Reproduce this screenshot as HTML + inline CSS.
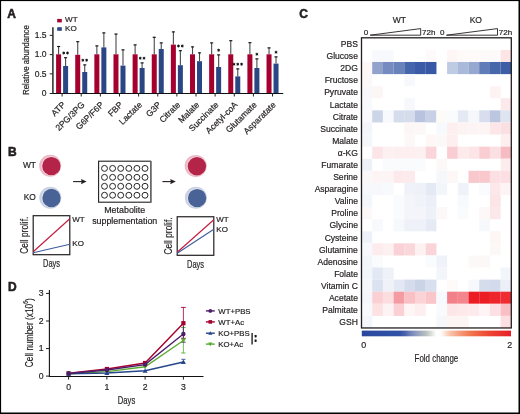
<!DOCTYPE html>
<html><head><meta charset="utf-8"><style>
html,body{margin:0;padding:0;background:#fff;width:520px;height:414px;overflow:hidden;}
svg{display:block;will-change:transform;}
text{font-family:"Liberation Sans",sans-serif;fill:#231f20;stroke:#231f20;stroke-width:0.2px;}
</style></head><body>
<svg width="520" height="414" viewBox="0 0 520 414">
<text x="7.2" y="17.9" font-size="12.0" font-weight="bold" style="stroke-width:0.55px">A</text>
<rect x="57.2" y="18.9" width="4.6" height="3.5" fill="#a6002f"/>
<rect x="57.2" y="27.2" width="4.6" height="3.6" fill="#2a4784"/>
<text x="65.0" y="22.45" font-size="8.1">WT</text>
<text x="65.0" y="31.3" font-size="8.1">KO</text>
<line x1="52.9" y1="27.3" x2="52.9" y2="94" stroke="#2a2a2a" stroke-width="1.5"/>
<line x1="52.2" y1="93.5" x2="283.2" y2="93.5" stroke="#111" stroke-width="1.05"/>
<line x1="49.7" y1="93.50" x2="52.5" y2="93.50" stroke="#231f20" stroke-width="1"/>
<text x="46.5" y="95.95" font-size="8.5" text-anchor="end">0</text>
<line x1="49.7" y1="73.85" x2="52.5" y2="73.85" stroke="#231f20" stroke-width="1"/>
<text x="46.5" y="76.70" font-size="8.5" text-anchor="end">0.5</text>
<line x1="49.7" y1="54.60" x2="52.5" y2="54.60" stroke="#231f20" stroke-width="1"/>
<text x="46.5" y="57.45" font-size="8.5" text-anchor="end">1.0</text>
<line x1="49.7" y1="35.35" x2="52.5" y2="35.35" stroke="#231f20" stroke-width="1"/>
<text x="46.5" y="38.20" font-size="8.5" text-anchor="end">1.5</text>
<text transform="translate(28.9,60.05) rotate(-90)" font-size="9.2" text-anchor="middle" textLength="70" lengthAdjust="spacingAndGlyphs">Relative abundance</text>
<line x1="62.10" y1="93.0" x2="62.10" y2="96.5" stroke="#231f20" stroke-width="1"/>
<line x1="58.60" y1="54.3" x2="58.60" y2="46" stroke="#4a4a4a" stroke-width="1.1"/>
<line x1="57.05" y1="46.5" x2="60.15" y2="46.5" stroke="#111" stroke-width="1.1"/>
<rect x="56.10" y="54.3" width="5" height="38.70" fill="#a6002f"/>
<line x1="65.60" y1="66" x2="65.60" y2="57.2" stroke="#4a4a4a" stroke-width="1.1"/>
<line x1="64.05" y1="57.7" x2="67.15" y2="57.7" stroke="#111" stroke-width="1.1"/>
<rect x="63.10" y="66" width="5" height="27.00" fill="#2a4784"/>
<line x1="63.70" y1="51.55" x2="63.70" y2="54.45" stroke="#111" stroke-width="0.95"/>
<line x1="62.44" y1="52.27" x2="64.96" y2="53.73" stroke="#111" stroke-width="0.95"/>
<line x1="62.44" y1="53.73" x2="64.96" y2="52.27" stroke="#111" stroke-width="0.95"/>
<line x1="67.50" y1="51.55" x2="67.50" y2="54.45" stroke="#111" stroke-width="0.95"/>
<line x1="66.24" y1="52.27" x2="68.76" y2="53.73" stroke="#111" stroke-width="0.95"/>
<line x1="66.24" y1="53.73" x2="68.76" y2="52.27" stroke="#111" stroke-width="0.95"/>
<text transform="translate(66.00,105.3) rotate(-45)" font-size="8.6" text-anchor="end">ATP</text>
<line x1="81.23" y1="93.0" x2="81.23" y2="96.5" stroke="#231f20" stroke-width="1"/>
<line x1="77.73" y1="54.8" x2="77.73" y2="41.2" stroke="#4a4a4a" stroke-width="1.1"/>
<line x1="76.18" y1="41.7" x2="79.28" y2="41.7" stroke="#111" stroke-width="1.1"/>
<rect x="75.23" y="54.8" width="5" height="38.20" fill="#a6002f"/>
<line x1="84.73" y1="72" x2="84.73" y2="64.4" stroke="#4a4a4a" stroke-width="1.1"/>
<line x1="83.18" y1="64.9" x2="86.28" y2="64.9" stroke="#111" stroke-width="1.1"/>
<rect x="82.23" y="72" width="5" height="21.00" fill="#2a4784"/>
<line x1="82.83" y1="58.75" x2="82.83" y2="61.65" stroke="#111" stroke-width="0.95"/>
<line x1="81.57" y1="59.48" x2="84.09" y2="60.93" stroke="#111" stroke-width="0.95"/>
<line x1="81.57" y1="60.93" x2="84.09" y2="59.48" stroke="#111" stroke-width="0.95"/>
<line x1="86.63" y1="58.75" x2="86.63" y2="61.65" stroke="#111" stroke-width="0.95"/>
<line x1="85.37" y1="59.48" x2="87.89" y2="60.93" stroke="#111" stroke-width="0.95"/>
<line x1="85.37" y1="60.93" x2="87.89" y2="59.48" stroke="#111" stroke-width="0.95"/>
<text transform="translate(85.13,105.3) rotate(-45)" font-size="8.6" text-anchor="end">2PG/3PG</text>
<line x1="100.36" y1="93.0" x2="100.36" y2="96.5" stroke="#231f20" stroke-width="1"/>
<line x1="96.86" y1="54.3" x2="96.86" y2="45.4" stroke="#4a4a4a" stroke-width="1.1"/>
<line x1="95.31" y1="45.9" x2="98.41" y2="45.9" stroke="#111" stroke-width="1.1"/>
<rect x="94.36" y="54.3" width="5" height="38.70" fill="#a6002f"/>
<line x1="103.86" y1="47.4" x2="103.86" y2="32.4" stroke="#4a4a4a" stroke-width="1.1"/>
<line x1="102.31" y1="32.9" x2="105.41" y2="32.9" stroke="#111" stroke-width="1.1"/>
<rect x="101.36" y="47.4" width="5" height="45.60" fill="#2a4784"/>
<text transform="translate(104.26,105.3) rotate(-45)" font-size="8.6" text-anchor="end">G6P/F6P</text>
<line x1="119.49" y1="93.0" x2="119.49" y2="96.5" stroke="#231f20" stroke-width="1"/>
<line x1="115.99" y1="54.3" x2="115.99" y2="33.6" stroke="#4a4a4a" stroke-width="1.1"/>
<line x1="114.44" y1="34.1" x2="117.54" y2="34.1" stroke="#111" stroke-width="1.1"/>
<rect x="113.49" y="54.3" width="5" height="38.70" fill="#a6002f"/>
<line x1="122.99" y1="65.6" x2="122.99" y2="49.4" stroke="#4a4a4a" stroke-width="1.1"/>
<line x1="121.44" y1="49.9" x2="124.54" y2="49.9" stroke="#111" stroke-width="1.1"/>
<rect x="120.49" y="65.6" width="5" height="27.40" fill="#2a4784"/>
<text transform="translate(123.39,105.3) rotate(-45)" font-size="8.6" text-anchor="end">FBP</text>
<line x1="138.62" y1="93.0" x2="138.62" y2="96.5" stroke="#231f20" stroke-width="1"/>
<line x1="135.12" y1="54.3" x2="135.12" y2="44.4" stroke="#4a4a4a" stroke-width="1.1"/>
<line x1="133.57" y1="44.9" x2="136.67" y2="44.9" stroke="#111" stroke-width="1.1"/>
<rect x="132.62" y="54.3" width="5" height="38.70" fill="#a6002f"/>
<line x1="142.12" y1="68" x2="142.12" y2="62.4" stroke="#4a4a4a" stroke-width="1.1"/>
<line x1="140.57" y1="62.9" x2="143.67" y2="62.9" stroke="#111" stroke-width="1.1"/>
<rect x="139.62" y="68" width="5" height="25.00" fill="#2a4784"/>
<line x1="140.22" y1="56.75" x2="140.22" y2="59.65" stroke="#111" stroke-width="0.95"/>
<line x1="138.96" y1="57.47" x2="141.48" y2="58.92" stroke="#111" stroke-width="0.95"/>
<line x1="138.96" y1="58.92" x2="141.48" y2="57.47" stroke="#111" stroke-width="0.95"/>
<line x1="144.02" y1="56.75" x2="144.02" y2="59.65" stroke="#111" stroke-width="0.95"/>
<line x1="142.76" y1="57.47" x2="145.28" y2="58.92" stroke="#111" stroke-width="0.95"/>
<line x1="142.76" y1="58.92" x2="145.28" y2="57.47" stroke="#111" stroke-width="0.95"/>
<text transform="translate(142.52,105.3) rotate(-45)" font-size="8.6" text-anchor="end">Lactate</text>
<line x1="157.75" y1="93.0" x2="157.75" y2="96.5" stroke="#231f20" stroke-width="1"/>
<line x1="154.25" y1="54.3" x2="154.25" y2="36.8" stroke="#4a4a4a" stroke-width="1.1"/>
<line x1="152.70" y1="37.3" x2="155.80" y2="37.3" stroke="#111" stroke-width="1.1"/>
<rect x="151.75" y="54.3" width="5" height="38.70" fill="#a6002f"/>
<line x1="161.25" y1="49" x2="161.25" y2="42.4" stroke="#4a4a4a" stroke-width="1.1"/>
<line x1="159.70" y1="42.9" x2="162.80" y2="42.9" stroke="#111" stroke-width="1.1"/>
<rect x="158.75" y="49" width="5" height="44.00" fill="#2a4784"/>
<text transform="translate(161.65,105.3) rotate(-45)" font-size="8.6" text-anchor="end">G3P</text>
<line x1="176.88" y1="93.0" x2="176.88" y2="96.5" stroke="#231f20" stroke-width="1"/>
<line x1="173.38" y1="44.6" x2="173.38" y2="31.4" stroke="#4a4a4a" stroke-width="1.1"/>
<line x1="171.83" y1="31.9" x2="174.93" y2="31.9" stroke="#111" stroke-width="1.1"/>
<rect x="170.88" y="44.6" width="5" height="48.40" fill="#a6002f"/>
<line x1="180.38" y1="65.2" x2="180.38" y2="50.2" stroke="#4a4a4a" stroke-width="1.1"/>
<line x1="178.83" y1="50.7" x2="181.93" y2="50.7" stroke="#111" stroke-width="1.1"/>
<rect x="177.88" y="65.2" width="5" height="27.80" fill="#2a4784"/>
<line x1="178.48" y1="44.55" x2="178.48" y2="47.45" stroke="#111" stroke-width="0.95"/>
<line x1="177.22" y1="45.27" x2="179.74" y2="46.73" stroke="#111" stroke-width="0.95"/>
<line x1="177.22" y1="46.73" x2="179.74" y2="45.27" stroke="#111" stroke-width="0.95"/>
<line x1="182.28" y1="44.55" x2="182.28" y2="47.45" stroke="#111" stroke-width="0.95"/>
<line x1="181.02" y1="45.27" x2="183.54" y2="46.73" stroke="#111" stroke-width="0.95"/>
<line x1="181.02" y1="46.73" x2="183.54" y2="45.27" stroke="#111" stroke-width="0.95"/>
<text transform="translate(180.78,105.3) rotate(-45)" font-size="8.6" text-anchor="end">Citrate</text>
<line x1="196.01" y1="93.0" x2="196.01" y2="96.5" stroke="#231f20" stroke-width="1"/>
<line x1="192.51" y1="54.3" x2="192.51" y2="46.4" stroke="#4a4a4a" stroke-width="1.1"/>
<line x1="190.96" y1="46.9" x2="194.06" y2="46.9" stroke="#111" stroke-width="1.1"/>
<rect x="190.01" y="54.3" width="5" height="38.70" fill="#a6002f"/>
<line x1="199.51" y1="61.2" x2="199.51" y2="52.4" stroke="#4a4a4a" stroke-width="1.1"/>
<line x1="197.96" y1="52.9" x2="201.06" y2="52.9" stroke="#111" stroke-width="1.1"/>
<rect x="197.01" y="61.2" width="5" height="31.80" fill="#2a4784"/>
<text transform="translate(199.91,105.3) rotate(-45)" font-size="8.6" text-anchor="end">Malate</text>
<line x1="215.14" y1="93.0" x2="215.14" y2="96.5" stroke="#231f20" stroke-width="1"/>
<line x1="211.64" y1="54.3" x2="211.64" y2="42.4" stroke="#4a4a4a" stroke-width="1.1"/>
<line x1="210.09" y1="42.9" x2="213.19" y2="42.9" stroke="#111" stroke-width="1.1"/>
<rect x="209.14" y="54.3" width="5" height="38.70" fill="#a6002f"/>
<line x1="218.64" y1="67" x2="218.64" y2="54.4" stroke="#4a4a4a" stroke-width="1.1"/>
<line x1="217.09" y1="54.9" x2="220.19" y2="54.9" stroke="#111" stroke-width="1.1"/>
<rect x="216.14" y="67" width="5" height="26.00" fill="#2a4784"/>
<line x1="218.64" y1="48.75" x2="218.64" y2="51.65" stroke="#111" stroke-width="0.95"/>
<line x1="217.38" y1="49.47" x2="219.90" y2="50.92" stroke="#111" stroke-width="0.95"/>
<line x1="217.38" y1="50.92" x2="219.90" y2="49.47" stroke="#111" stroke-width="0.95"/>
<text transform="translate(219.04,105.3) rotate(-45)" font-size="8.6" text-anchor="end">Succinate</text>
<line x1="234.27" y1="93.0" x2="234.27" y2="96.5" stroke="#231f20" stroke-width="1"/>
<line x1="230.77" y1="54.3" x2="230.77" y2="40.2" stroke="#4a4a4a" stroke-width="1.1"/>
<line x1="229.22" y1="40.7" x2="232.32" y2="40.7" stroke="#111" stroke-width="1.1"/>
<rect x="228.27" y="54.3" width="5" height="38.70" fill="#a6002f"/>
<line x1="237.77" y1="76.4" x2="237.77" y2="68.4" stroke="#4a4a4a" stroke-width="1.1"/>
<line x1="236.22" y1="68.9" x2="239.32" y2="68.9" stroke="#111" stroke-width="1.1"/>
<rect x="235.27" y="76.4" width="5" height="16.60" fill="#2a4784"/>
<line x1="233.97" y1="62.75" x2="233.97" y2="65.65" stroke="#111" stroke-width="0.95"/>
<line x1="232.71" y1="63.48" x2="235.23" y2="64.92" stroke="#111" stroke-width="0.95"/>
<line x1="232.71" y1="64.92" x2="235.23" y2="63.48" stroke="#111" stroke-width="0.95"/>
<line x1="237.77" y1="62.75" x2="237.77" y2="65.65" stroke="#111" stroke-width="0.95"/>
<line x1="236.51" y1="63.48" x2="239.03" y2="64.92" stroke="#111" stroke-width="0.95"/>
<line x1="236.51" y1="64.92" x2="239.03" y2="63.48" stroke="#111" stroke-width="0.95"/>
<line x1="241.57" y1="62.75" x2="241.57" y2="65.65" stroke="#111" stroke-width="0.95"/>
<line x1="240.31" y1="63.48" x2="242.83" y2="64.92" stroke="#111" stroke-width="0.95"/>
<line x1="240.31" y1="64.92" x2="242.83" y2="63.48" stroke="#111" stroke-width="0.95"/>
<text transform="translate(238.17,105.3) rotate(-45)" font-size="8.6" text-anchor="end">Acetyl-coA</text>
<line x1="253.40" y1="93.0" x2="253.40" y2="96.5" stroke="#231f20" stroke-width="1"/>
<line x1="249.90" y1="54.3" x2="249.90" y2="42.2" stroke="#4a4a4a" stroke-width="1.1"/>
<line x1="248.35" y1="42.7" x2="251.45" y2="42.7" stroke="#111" stroke-width="1.1"/>
<rect x="247.40" y="54.3" width="5" height="38.70" fill="#a6002f"/>
<line x1="256.90" y1="68" x2="256.90" y2="58.4" stroke="#4a4a4a" stroke-width="1.1"/>
<line x1="255.35" y1="58.9" x2="258.45" y2="58.9" stroke="#111" stroke-width="1.1"/>
<rect x="254.40" y="68" width="5" height="25.00" fill="#2a4784"/>
<line x1="256.90" y1="52.75" x2="256.90" y2="55.65" stroke="#111" stroke-width="0.95"/>
<line x1="255.64" y1="53.47" x2="258.16" y2="54.92" stroke="#111" stroke-width="0.95"/>
<line x1="255.64" y1="54.92" x2="258.16" y2="53.47" stroke="#111" stroke-width="0.95"/>
<text transform="translate(257.30,105.3) rotate(-45)" font-size="8.6" text-anchor="end">Glutamate</text>
<line x1="272.53" y1="93.0" x2="272.53" y2="96.5" stroke="#231f20" stroke-width="1"/>
<line x1="269.03" y1="54.3" x2="269.03" y2="47.4" stroke="#4a4a4a" stroke-width="1.1"/>
<line x1="267.48" y1="47.9" x2="270.58" y2="47.9" stroke="#111" stroke-width="1.1"/>
<rect x="266.53" y="54.3" width="5" height="38.70" fill="#a6002f"/>
<line x1="276.03" y1="63.6" x2="276.03" y2="56.4" stroke="#4a4a4a" stroke-width="1.1"/>
<line x1="274.48" y1="56.9" x2="277.58" y2="56.9" stroke="#111" stroke-width="1.1"/>
<rect x="273.53" y="63.6" width="5" height="29.40" fill="#2a4784"/>
<line x1="276.03" y1="50.75" x2="276.03" y2="53.65" stroke="#111" stroke-width="0.95"/>
<line x1="274.77" y1="51.47" x2="277.29" y2="52.92" stroke="#111" stroke-width="0.95"/>
<line x1="274.77" y1="52.92" x2="277.29" y2="51.47" stroke="#111" stroke-width="0.95"/>
<text transform="translate(276.43,105.3) rotate(-45)" font-size="8.6" text-anchor="end">Asparatate</text>
<text x="7.9" y="155.9" font-size="12.0" font-weight="bold" style="stroke-width:0.55px">B</text>
<text x="36.0" y="168.2" font-size="8.4" text-anchor="end">WT</text>
<text x="35.8" y="200.0" font-size="8.4" text-anchor="end">KO</text>
<circle cx="50.20" cy="165.80" r="11" fill="#ebb9c7"/>
<circle cx="51.10" cy="166.00" r="9.65" fill="#f6dfe5"/>
<circle cx="51.4" cy="166.1" r="9.2" fill="#b42348"/>
<circle cx="50.30" cy="197.70" r="11" fill="#c9d1e3"/>
<circle cx="51.20" cy="197.90" r="9.65" fill="#e6eaf2"/>
<circle cx="51.5" cy="198.0" r="9.2" fill="#4a6396"/>
<circle cx="195.70" cy="165.90" r="11" fill="#ebb9c7"/>
<circle cx="196.60" cy="166.10" r="9.65" fill="#f6dfe5"/>
<circle cx="196.9" cy="166.2" r="9.2" fill="#b42348"/>
<circle cx="195.90" cy="197.80" r="11" fill="#c9d1e3"/>
<circle cx="196.80" cy="198.00" r="9.65" fill="#e6eaf2"/>
<circle cx="197.1" cy="198.1" r="9.2" fill="#4a6396"/>
<line x1="73.1" y1="181.6" x2="83.6" y2="181.6" stroke="#231f20" stroke-width="1.1"/>
<path d="M81.00,179.00 L86.60,181.60 L81.00,184.20 L81.70,181.60 Z" fill="#231f20"/>
<line x1="162.4" y1="181.6" x2="172.8" y2="181.6" stroke="#231f20" stroke-width="1.1"/>
<path d="M170.20,179.00 L175.80,181.60 L170.20,184.20 L170.90,181.60 Z" fill="#231f20"/>
<rect x="98.6" y="161.2" width="52" height="41" fill="#fff" stroke="#231f20" stroke-width="1.1"/>
<line x1="151" y1="161" x2="151" y2="202.8" stroke="#777" stroke-width="1.6"/>
<circle cx="104.50" cy="168.40" r="2.95" fill="none" stroke="#1a1a1a" stroke-width="0.95"/>
<circle cx="112.60" cy="168.40" r="2.95" fill="none" stroke="#1a1a1a" stroke-width="0.95"/>
<circle cx="120.70" cy="168.40" r="2.95" fill="none" stroke="#1a1a1a" stroke-width="0.95"/>
<circle cx="128.80" cy="168.40" r="2.95" fill="none" stroke="#1a1a1a" stroke-width="0.95"/>
<circle cx="136.90" cy="168.40" r="2.95" fill="none" stroke="#1a1a1a" stroke-width="0.95"/>
<circle cx="145.00" cy="168.40" r="2.95" fill="none" stroke="#1a1a1a" stroke-width="0.95"/>
<circle cx="104.50" cy="177.35" r="2.95" fill="none" stroke="#1a1a1a" stroke-width="0.95"/>
<circle cx="112.60" cy="177.35" r="2.95" fill="none" stroke="#1a1a1a" stroke-width="0.95"/>
<circle cx="120.70" cy="177.35" r="2.95" fill="none" stroke="#1a1a1a" stroke-width="0.95"/>
<circle cx="128.80" cy="177.35" r="2.95" fill="none" stroke="#1a1a1a" stroke-width="0.95"/>
<circle cx="136.90" cy="177.35" r="2.95" fill="none" stroke="#1a1a1a" stroke-width="0.95"/>
<circle cx="145.00" cy="177.35" r="2.95" fill="none" stroke="#1a1a1a" stroke-width="0.95"/>
<circle cx="104.50" cy="186.30" r="2.95" fill="none" stroke="#1a1a1a" stroke-width="0.95"/>
<circle cx="112.60" cy="186.30" r="2.95" fill="none" stroke="#1a1a1a" stroke-width="0.95"/>
<circle cx="120.70" cy="186.30" r="2.95" fill="none" stroke="#1a1a1a" stroke-width="0.95"/>
<circle cx="128.80" cy="186.30" r="2.95" fill="none" stroke="#1a1a1a" stroke-width="0.95"/>
<circle cx="136.90" cy="186.30" r="2.95" fill="none" stroke="#1a1a1a" stroke-width="0.95"/>
<circle cx="145.00" cy="186.30" r="2.95" fill="none" stroke="#1a1a1a" stroke-width="0.95"/>
<circle cx="104.50" cy="195.25" r="2.95" fill="none" stroke="#1a1a1a" stroke-width="0.95"/>
<circle cx="112.60" cy="195.25" r="2.95" fill="none" stroke="#1a1a1a" stroke-width="0.95"/>
<circle cx="120.70" cy="195.25" r="2.95" fill="none" stroke="#1a1a1a" stroke-width="0.95"/>
<circle cx="128.80" cy="195.25" r="2.95" fill="none" stroke="#1a1a1a" stroke-width="0.95"/>
<circle cx="136.90" cy="195.25" r="2.95" fill="none" stroke="#1a1a1a" stroke-width="0.95"/>
<circle cx="145.00" cy="195.25" r="2.95" fill="none" stroke="#1a1a1a" stroke-width="0.95"/>
<text x="124.7" y="212.6" font-size="8.9" text-anchor="middle" fill="#333">Metabolite</text>
<text x="124.7" y="223.6" font-size="8.9" text-anchor="middle" fill="#333">supplementation</text>
<rect x="33.2" y="215.7" width="36.599999999999994" height="39.0" fill="none" stroke="#231f20" stroke-width="1.2"/>
<line x1="33.2" y1="251.7" x2="69.8" y2="218.7" stroke="#c41a3c" stroke-width="1.15"/>
<line x1="33.2" y1="252.7" x2="69.8" y2="244.2" stroke="#3d5c9e" stroke-width="1.1"/>
<text x="72.3" y="222.3" font-size="8.0">WT</text>
<text x="72.3" y="246.3" font-size="8.0">KO</text>
<text transform="translate(27.70,235.15) rotate(-90)" font-size="10" text-anchor="middle" textLength="37" lengthAdjust="spacingAndGlyphs">Cell prolif.</text>
<text x="51.50" y="266.90" font-size="11" text-anchor="middle" textLength="17" lengthAdjust="spacingAndGlyphs">Days</text>
<rect x="177.2" y="216.75" width="36.60000000000002" height="38.55000000000001" fill="none" stroke="#231f20" stroke-width="1.2"/>
<line x1="177.2" y1="252.3" x2="213.8" y2="219.75" stroke="#c41a3c" stroke-width="1.15"/>
<line x1="177.2" y1="253.3" x2="213.8" y2="229.2" stroke="#3d5c9e" stroke-width="1.1"/>
<text x="216.3" y="222.0" font-size="8.0">WT</text>
<text x="216.3" y="231.8" font-size="8.0">KO</text>
<text transform="translate(171.70,235.90) rotate(-90)" font-size="10" text-anchor="middle" textLength="37" lengthAdjust="spacingAndGlyphs">Cell prolif.</text>
<text x="195.50" y="267.50" font-size="11" text-anchor="middle" textLength="17" lengthAdjust="spacingAndGlyphs">Days</text>
<text x="7.9" y="290.8" font-size="12.0" font-weight="bold" style="stroke-width:0.55px">D</text>
<line x1="49.4" y1="290" x2="49.4" y2="376.70000000000005" stroke="#111" stroke-width="1.1"/>
<line x1="48.9" y1="376.5" x2="203.5" y2="376.5" stroke="#111" stroke-width="1.1"/>
<line x1="46.0" y1="376.10" x2="49.4" y2="376.10" stroke="#231f20" stroke-width="1"/>
<text x="43.6" y="379.00" font-size="8.7" text-anchor="end">0</text>
<line x1="46.0" y1="348.55" x2="49.4" y2="348.55" stroke="#231f20" stroke-width="1"/>
<text x="43.6" y="351.45" font-size="8.7" text-anchor="end">1</text>
<line x1="46.0" y1="321.00" x2="49.4" y2="321.00" stroke="#231f20" stroke-width="1"/>
<text x="43.6" y="323.90" font-size="8.7" text-anchor="end">2</text>
<line x1="46.0" y1="293.45" x2="49.4" y2="293.45" stroke="#231f20" stroke-width="1"/>
<text x="43.6" y="296.35" font-size="8.7" text-anchor="end">3</text>
<line x1="68.6" y1="376.1" x2="68.6" y2="379.6" stroke="#231f20" stroke-width="1"/>
<text x="68.6" y="389.5" font-size="8.7" text-anchor="middle">0</text>
<line x1="106.9" y1="376.1" x2="106.9" y2="379.6" stroke="#231f20" stroke-width="1"/>
<text x="106.9" y="389.5" font-size="8.7" text-anchor="middle">1</text>
<line x1="145.1" y1="376.1" x2="145.1" y2="379.6" stroke="#231f20" stroke-width="1"/>
<text x="145.1" y="389.5" font-size="8.7" text-anchor="middle">2</text>
<line x1="183.4" y1="376.1" x2="183.4" y2="379.6" stroke="#231f20" stroke-width="1"/>
<text x="183.4" y="389.5" font-size="8.7" text-anchor="middle">3</text>
<text x="126.5" y="403.9" font-size="11" text-anchor="middle" textLength="17.4" lengthAdjust="spacingAndGlyphs">Days</text>
<text transform="translate(32.6,332.75) rotate(-90)" font-size="10.8" text-anchor="middle" textLength="69" lengthAdjust="spacingAndGlyphs">Cell number (x10<tspan dy="-4.4" font-size="6.3">6</tspan><tspan dy="4.4">)</tspan></text>
<line x1="183.4" y1="307.4" x2="183.4" y2="338.3" stroke="#a6002f" stroke-width="0.8"/>
<line x1="181" y1="307.4" x2="185.8" y2="307.4" stroke="#a6002f" stroke-width="0.9"/>
<line x1="181" y1="338.3" x2="185.8" y2="338.3" stroke="#a6002f" stroke-width="0.9"/>
<line x1="183.4" y1="327.5" x2="183.4" y2="353" stroke="#5aaa32" stroke-width="0.8"/>
<line x1="181.2" y1="327.5" x2="185.6" y2="327.5" stroke="#5aaa32" stroke-width="0.9"/>
<line x1="181.2" y1="353" x2="185.6" y2="353" stroke="#5aaa32" stroke-width="0.9"/>
<line x1="183.4" y1="326" x2="183.4" y2="342.2" stroke="#4b1d6b" stroke-width="0.8"/>
<line x1="181.2" y1="342.2" x2="185.6" y2="342.2" stroke="#4b1d6b" stroke-width="0.9"/>
<line x1="181.4" y1="359.3" x2="185.4" y2="359.3" stroke="#26468a" stroke-width="0.9"/>
<polyline points="68.6,373.3 106.9,369.0 145.1,363.0 183.4,323.2" fill="none" stroke="#a6002f" stroke-width="1.4"/>
<rect x="66.50" y="371.20" width="4.20" height="4.20" fill="#a6002f"/>
<rect x="104.80" y="366.90" width="4.20" height="4.20" fill="#a6002f"/>
<rect x="143.00" y="360.90" width="4.20" height="4.20" fill="#a6002f"/>
<rect x="181.30" y="321.10" width="4.20" height="4.20" fill="#a6002f"/>
<polyline points="68.6,373.7 106.9,371.6 145.1,366.8 183.4,340.5" fill="none" stroke="#5aaa32" stroke-width="1.4"/>
<path d="M68.60,376.10 L71.10,371.80 L66.10,371.80 Z" fill="#5aaa32"/>
<path d="M106.90,374.00 L109.40,369.70 L104.40,369.70 Z" fill="#5aaa32"/>
<path d="M145.10,369.20 L147.60,364.90 L142.60,364.90 Z" fill="#5aaa32"/>
<path d="M183.40,342.90 L185.90,338.60 L180.90,338.60 Z" fill="#5aaa32"/>
<polyline points="68.6,373.9 106.9,373.0 145.1,370.8 183.4,362.0" fill="none" stroke="#26468a" stroke-width="1.4"/>
<path d="M68.60,371.50 L71.10,375.80 L66.10,375.80 Z" fill="#26468a"/>
<path d="M106.90,370.60 L109.40,374.90 L104.40,374.90 Z" fill="#26468a"/>
<path d="M145.10,368.40 L147.60,372.70 L142.60,372.70 Z" fill="#26468a"/>
<path d="M183.40,359.60 L185.90,363.90 L180.90,363.90 Z" fill="#26468a"/>
<polyline points="68.6,373.5 106.9,370.0 145.1,364.6 183.4,334.0" fill="none" stroke="#4b1d6b" stroke-width="1.4"/>
<circle cx="68.6" cy="373.5" r="2.20" fill="#4b1d6b"/>
<circle cx="106.9" cy="370.0" r="2.20" fill="#4b1d6b"/>
<circle cx="145.1" cy="364.6" r="2.20" fill="#4b1d6b"/>
<circle cx="183.4" cy="334.0" r="2.20" fill="#4b1d6b"/>
<line x1="205.9" y1="310.90" x2="214.8" y2="310.90" stroke="#4b1d6b" stroke-width="1.4"/>
<circle cx="210.3" cy="310.9" r="1.87" fill="#4b1d6b"/>
<text x="218.3" y="313.80" font-size="7.8">WT+PBS</text>
<line x1="205.9" y1="321.90" x2="214.8" y2="321.90" stroke="#a6002f" stroke-width="1.4"/>
<rect x="208.52" y="320.11" width="3.57" height="3.57" fill="#a6002f"/>
<text x="218.3" y="324.90" font-size="7.8">WT+Ac</text>
<line x1="205.9" y1="333.20" x2="214.8" y2="333.20" stroke="#26468a" stroke-width="1.4"/>
<path d="M210.30,331.16 L212.43,334.81 L208.18,334.81 Z" fill="#26468a"/>
<text x="218.3" y="336.10" font-size="7.8">KO+PBS</text>
<line x1="205.9" y1="344.10" x2="214.8" y2="344.10" stroke="#5aaa32" stroke-width="1.4"/>
<path d="M210.30,346.14 L212.43,342.49 L208.18,342.49 Z" fill="#5aaa32"/>
<text x="218.3" y="347.10" font-size="7.8">KO+Ac</text>
<line x1="252.1" y1="333.1" x2="252.1" y2="344.6" stroke="#231f20" stroke-width="1.4"/>
<line x1="255.60" y1="334.90" x2="255.60" y2="337.50" stroke="#111" stroke-width="0.95"/>
<line x1="254.47" y1="335.55" x2="256.73" y2="336.85" stroke="#111" stroke-width="0.95"/>
<line x1="254.47" y1="336.85" x2="256.73" y2="335.55" stroke="#111" stroke-width="0.95"/>
<line x1="255.60" y1="339.40" x2="255.60" y2="342.00" stroke="#111" stroke-width="0.95"/>
<line x1="254.47" y1="340.05" x2="256.73" y2="341.35" stroke="#111" stroke-width="0.95"/>
<line x1="254.47" y1="341.35" x2="256.73" y2="340.05" stroke="#111" stroke-width="0.95"/>
<text x="299.3" y="17.9" font-size="12.0" font-weight="bold" style="stroke-width:0.55px">C</text>
<text x="399.4" y="22.95" font-size="8.5" text-anchor="middle">WT</text>
<text x="475.8" y="22.95" font-size="8.5" text-anchor="middle">KO</text>
<text x="363.8" y="35.2" font-size="8.0">0</text>
<path d="M370.2,35.2 L420.7,28.6 L420.7,35.2 Z" fill="none" stroke="#231f20" stroke-width="0.9" stroke-linejoin="miter"/>
<text x="422.0" y="35.2" font-size="8.0">72h</text>
<text x="440.1" y="35.2" font-size="8.0">0</text>
<path d="M446.5,35.2 L497.5,28.6 L497.5,35.2 Z" fill="none" stroke="#231f20" stroke-width="0.9" stroke-linejoin="miter"/>
<text x="498.8" y="35.2" font-size="8.0">72h</text>
<text x="357.9" y="47.10" font-size="8.55" text-anchor="end">PBS</text>
<text x="357.9" y="59.19" font-size="8.55" text-anchor="end">Glucose</text>
<rect x="372.20" y="49.89" width="10.75" height="12.14" fill="#f7f9fd"/>
<rect x="382.90" y="49.89" width="10.75" height="12.14" fill="#f8f9fd"/>
<rect x="425.70" y="49.89" width="10.75" height="12.14" fill="#fefafa"/>
<rect x="447.10" y="49.89" width="10.75" height="12.14" fill="#fef5f5"/>
<rect x="457.80" y="49.89" width="10.75" height="12.14" fill="#fefafa"/>
<rect x="468.50" y="49.89" width="10.75" height="12.14" fill="#fefafa"/>
<rect x="479.20" y="49.89" width="10.75" height="12.14" fill="#fefafa"/>
<rect x="489.90" y="49.89" width="10.75" height="12.14" fill="#fefafa"/>
<rect x="500.60" y="49.89" width="10.75" height="12.14" fill="#fde5e6"/>
<text x="357.9" y="71.28" font-size="8.55" text-anchor="end">2DG</text>
<rect x="361.50" y="61.98" width="10.75" height="12.14" fill="#fdf7f7"/>
<rect x="372.20" y="61.98" width="10.75" height="12.14" fill="#91a3cb"/>
<rect x="382.90" y="61.98" width="10.75" height="12.14" fill="#768cc0"/>
<rect x="393.60" y="61.98" width="10.75" height="12.14" fill="#6a82ba"/>
<rect x="404.30" y="61.98" width="10.75" height="12.14" fill="#4566ac"/>
<rect x="415.00" y="61.98" width="10.75" height="12.14" fill="#3a5ba7"/>
<rect x="425.70" y="61.98" width="10.75" height="12.14" fill="#3658a5"/>
<rect x="447.10" y="61.98" width="10.75" height="12.14" fill="#bfcae3"/>
<rect x="457.80" y="61.98" width="10.75" height="12.14" fill="#aab8da"/>
<rect x="468.50" y="61.98" width="10.75" height="12.14" fill="#96a8cf"/>
<rect x="479.20" y="61.98" width="10.75" height="12.14" fill="#5f7bb8"/>
<rect x="489.90" y="61.98" width="10.75" height="12.14" fill="#4767ab"/>
<rect x="500.60" y="61.98" width="10.75" height="12.14" fill="#3d5ea7"/>
<text x="357.9" y="83.37" font-size="8.55" text-anchor="end">Fructose</text>
<rect x="361.50" y="74.07" width="10.75" height="12.14" fill="#fdf8f8"/>
<rect x="404.30" y="74.07" width="10.75" height="12.14" fill="#f6f8fb"/>
<text x="357.9" y="95.46" font-size="8.55" text-anchor="end">Pyruvate</text>
<rect x="361.50" y="86.16" width="10.75" height="12.14" fill="#f8f8fb"/>
<rect x="372.20" y="86.16" width="10.75" height="12.14" fill="#fdf6f6"/>
<rect x="489.90" y="86.16" width="10.75" height="12.14" fill="#fdf3f3"/>
<text x="357.9" y="107.55" font-size="8.55" text-anchor="end">Lactate</text>
<rect x="361.50" y="98.25" width="10.75" height="12.14" fill="#f8f9fc"/>
<rect x="404.30" y="98.25" width="10.75" height="12.14" fill="#f6f8fb"/>
<rect x="500.60" y="98.25" width="10.75" height="12.14" fill="#fce9eb"/>
<text x="357.9" y="119.64" font-size="8.55" text-anchor="end">Citrate</text>
<rect x="361.50" y="110.34" width="10.75" height="12.14" fill="#fafafc"/>
<rect x="372.20" y="110.34" width="10.75" height="12.14" fill="#cdd5e8"/>
<rect x="382.90" y="110.34" width="10.75" height="12.14" fill="#f8f9fc"/>
<rect x="393.60" y="110.34" width="10.75" height="12.14" fill="#d5dcec"/>
<rect x="404.30" y="110.34" width="10.75" height="12.14" fill="#d5dcec"/>
<rect x="415.00" y="110.34" width="10.75" height="12.14" fill="#b8c3df"/>
<rect x="425.70" y="110.34" width="10.75" height="12.14" fill="#c8d0e6"/>
<rect x="436.40" y="110.34" width="10.75" height="12.14" fill="#fdfbf8"/>
<rect x="447.10" y="110.34" width="10.75" height="12.14" fill="#fafbfd"/>
<rect x="457.80" y="110.34" width="10.75" height="12.14" fill="#e4e9f3"/>
<rect x="468.50" y="110.34" width="10.75" height="12.14" fill="#f5f7fb"/>
<rect x="479.20" y="110.34" width="10.75" height="12.14" fill="#d8deed"/>
<rect x="489.90" y="110.34" width="10.75" height="12.14" fill="#bcc6e0"/>
<rect x="500.60" y="110.34" width="10.75" height="12.14" fill="#dfe4f1"/>
<text x="357.9" y="131.73" font-size="8.55" text-anchor="end">Succinate</text>
<rect x="361.50" y="122.43" width="10.75" height="12.14" fill="#f3f5fa"/>
<rect x="404.30" y="122.43" width="10.75" height="12.14" fill="#fdf6f6"/>
<rect x="415.00" y="122.43" width="10.75" height="12.14" fill="#fdf8f8"/>
<rect x="436.40" y="122.43" width="10.75" height="12.14" fill="#f8f9fc"/>
<rect x="447.10" y="122.43" width="10.75" height="12.14" fill="#fdeeef"/>
<rect x="457.80" y="122.43" width="10.75" height="12.14" fill="#fdf3f3"/>
<rect x="468.50" y="122.43" width="10.75" height="12.14" fill="#fdf5f5"/>
<rect x="479.20" y="122.43" width="10.75" height="12.14" fill="#fdf5f5"/>
<rect x="489.90" y="122.43" width="10.75" height="12.14" fill="#fce6e8"/>
<rect x="500.60" y="122.43" width="10.75" height="12.14" fill="#fbe0e3"/>
<text x="357.9" y="143.82" font-size="8.55" text-anchor="end">Malate</text>
<rect x="361.50" y="134.52" width="10.75" height="12.14" fill="#f4f6fa"/>
<rect x="404.30" y="134.52" width="10.75" height="12.14" fill="#fdf8f8"/>
<rect x="425.70" y="134.52" width="10.75" height="12.14" fill="#fdf7f7"/>
<rect x="436.40" y="134.52" width="10.75" height="12.14" fill="#fdf8f8"/>
<rect x="447.10" y="134.52" width="10.75" height="12.14" fill="#fdeef0"/>
<rect x="500.60" y="134.52" width="10.75" height="12.14" fill="#fdeef0"/>
<text x="357.9" y="155.91" font-size="8.55" text-anchor="end">&#945;-KG</text>
<rect x="372.20" y="146.61" width="10.75" height="12.14" fill="#fce5e8"/>
<rect x="382.90" y="146.61" width="10.75" height="12.14" fill="#fdf0f1"/>
<rect x="393.60" y="146.61" width="10.75" height="12.14" fill="#fdeef0"/>
<rect x="404.30" y="146.61" width="10.75" height="12.14" fill="#fdeef0"/>
<rect x="415.00" y="146.61" width="10.75" height="12.14" fill="#fdf0f1"/>
<rect x="425.70" y="146.61" width="10.75" height="12.14" fill="#fad6da"/>
<rect x="447.10" y="146.61" width="10.75" height="12.14" fill="#f9cdd2"/>
<rect x="457.80" y="146.61" width="10.75" height="12.14" fill="#fdeaec"/>
<rect x="468.50" y="146.61" width="10.75" height="12.14" fill="#fce4e7"/>
<rect x="479.20" y="146.61" width="10.75" height="12.14" fill="#f9cdd2"/>
<rect x="489.90" y="146.61" width="10.75" height="12.14" fill="#fbe0e3"/>
<rect x="500.60" y="146.61" width="10.75" height="12.14" fill="#f7bcc2"/>
<text x="357.9" y="168.00" font-size="8.55" text-anchor="end">Fumarate</text>
<rect x="361.50" y="158.70" width="10.75" height="12.14" fill="#eef2f8"/>
<rect x="382.90" y="158.70" width="10.75" height="12.14" fill="#fafbfd"/>
<rect x="393.60" y="158.70" width="10.75" height="12.14" fill="#fafbfd"/>
<rect x="404.30" y="158.70" width="10.75" height="12.14" fill="#fafbfd"/>
<rect x="415.00" y="158.70" width="10.75" height="12.14" fill="#fafbfd"/>
<rect x="436.40" y="158.70" width="10.75" height="12.14" fill="#fdf8f8"/>
<rect x="500.60" y="158.70" width="10.75" height="12.14" fill="#fcecee"/>
<text x="357.9" y="180.09" font-size="8.55" text-anchor="end">Serine</text>
<rect x="361.50" y="170.79" width="10.75" height="12.14" fill="#fbf8fa"/>
<rect x="372.20" y="170.79" width="10.75" height="12.14" fill="#fdf5f5"/>
<rect x="382.90" y="170.79" width="10.75" height="12.14" fill="#fdf5f5"/>
<rect x="393.60" y="170.79" width="10.75" height="12.14" fill="#fce9eb"/>
<rect x="404.30" y="170.79" width="10.75" height="12.14" fill="#fceaec"/>
<rect x="436.40" y="170.79" width="10.75" height="12.14" fill="#f5f7fb"/>
<rect x="447.10" y="170.79" width="10.75" height="12.14" fill="#fdf7f7"/>
<rect x="468.50" y="170.79" width="10.75" height="12.14" fill="#f8c8cd"/>
<rect x="479.20" y="170.79" width="10.75" height="12.14" fill="#f8c8cd"/>
<rect x="489.90" y="170.79" width="10.75" height="12.14" fill="#fbdfe2"/>
<rect x="500.60" y="170.79" width="10.75" height="12.14" fill="#fbdfe2"/>
<text x="357.9" y="192.18" font-size="8.55" text-anchor="end">Asparagine</text>
<rect x="361.50" y="182.88" width="10.75" height="12.14" fill="#f6f8fb"/>
<rect x="372.20" y="182.88" width="10.75" height="12.14" fill="#f6f8fb"/>
<rect x="382.90" y="182.88" width="10.75" height="12.14" fill="#f8f9fc"/>
<rect x="404.30" y="182.88" width="10.75" height="12.14" fill="#eff3f9"/>
<rect x="415.00" y="182.88" width="10.75" height="12.14" fill="#eef2f8"/>
<rect x="425.70" y="182.88" width="10.75" height="12.14" fill="#e4eaf4"/>
<rect x="436.40" y="182.88" width="10.75" height="12.14" fill="#f2f5fa"/>
<rect x="457.80" y="182.88" width="10.75" height="12.14" fill="#eff3f9"/>
<rect x="479.20" y="182.88" width="10.75" height="12.14" fill="#fafbfd"/>
<rect x="489.90" y="182.88" width="10.75" height="12.14" fill="#fce8ea"/>
<rect x="500.60" y="182.88" width="10.75" height="12.14" fill="#fdf5f5"/>
<text x="357.9" y="204.27" font-size="8.55" text-anchor="end">Valine</text>
<rect x="361.50" y="194.97" width="10.75" height="12.14" fill="#f3f6fa"/>
<rect x="393.60" y="194.97" width="10.75" height="12.14" fill="#fafbfd"/>
<rect x="404.30" y="194.97" width="10.75" height="12.14" fill="#f3f5fa"/>
<rect x="415.00" y="194.97" width="10.75" height="12.14" fill="#f0f3f9"/>
<rect x="425.70" y="194.97" width="10.75" height="12.14" fill="#eceff7"/>
<rect x="457.80" y="194.97" width="10.75" height="12.14" fill="#f8f9fc"/>
<rect x="489.90" y="194.97" width="10.75" height="12.14" fill="#fbe5e7"/>
<text x="357.9" y="216.36" font-size="8.55" text-anchor="end">Proline</text>
<rect x="361.50" y="207.06" width="10.75" height="12.14" fill="#fdf8f8"/>
<rect x="393.60" y="207.06" width="10.75" height="12.14" fill="#fafbfd"/>
<rect x="404.30" y="207.06" width="10.75" height="12.14" fill="#f3f5fa"/>
<rect x="415.00" y="207.06" width="10.75" height="12.14" fill="#f3f5fa"/>
<rect x="425.70" y="207.06" width="10.75" height="12.14" fill="#eef1f8"/>
<rect x="436.40" y="207.06" width="10.75" height="12.14" fill="#fdf8f8"/>
<rect x="457.80" y="207.06" width="10.75" height="12.14" fill="#fafbfd"/>
<rect x="479.20" y="207.06" width="10.75" height="12.14" fill="#fdf8f8"/>
<rect x="489.90" y="207.06" width="10.75" height="12.14" fill="#fce8ea"/>
<text x="357.9" y="228.45" font-size="8.55" text-anchor="end">Glycine</text>
<rect x="372.20" y="219.15" width="10.75" height="12.14" fill="#f8f9fc"/>
<rect x="393.60" y="219.15" width="10.75" height="12.14" fill="#f6f8fb"/>
<rect x="404.30" y="219.15" width="10.75" height="12.14" fill="#eef1f8"/>
<rect x="415.00" y="219.15" width="10.75" height="12.14" fill="#eef1f8"/>
<rect x="425.70" y="219.15" width="10.75" height="12.14" fill="#e5eaf5"/>
<rect x="479.20" y="219.15" width="10.75" height="12.14" fill="#f6f8fb"/>
<text x="357.9" y="240.54" font-size="8.55" text-anchor="end">Cysteine</text>
<rect x="361.50" y="231.24" width="10.75" height="12.14" fill="#eef2f8"/>
<rect x="489.90" y="231.24" width="10.75" height="12.14" fill="#fdf6f6"/>
<text x="357.9" y="252.63" font-size="8.55" text-anchor="end">Glutamine</text>
<rect x="361.50" y="243.33" width="10.75" height="12.14" fill="#f6f8fb"/>
<rect x="372.20" y="243.33" width="10.75" height="12.14" fill="#fdecee"/>
<rect x="382.90" y="243.33" width="10.75" height="12.14" fill="#fdf0f1"/>
<rect x="393.60" y="243.33" width="10.75" height="12.14" fill="#f9d1d6"/>
<rect x="404.30" y="243.33" width="10.75" height="12.14" fill="#fad7db"/>
<rect x="415.00" y="243.33" width="10.75" height="12.14" fill="#fdf1f2"/>
<rect x="425.70" y="243.33" width="10.75" height="12.14" fill="#fad4d8"/>
<rect x="489.90" y="243.33" width="10.75" height="12.14" fill="#fdf8f8"/>
<text x="357.9" y="264.72" font-size="8.55" text-anchor="end">Adenosine</text>
<rect x="361.50" y="255.42" width="10.75" height="12.14" fill="#f2f5fa"/>
<rect x="372.20" y="255.42" width="10.75" height="12.14" fill="#fafbfd"/>
<rect x="425.70" y="255.42" width="10.75" height="12.14" fill="#fafbfd"/>
<rect x="436.40" y="255.42" width="10.75" height="12.14" fill="#eff3f9"/>
<rect x="468.50" y="255.42" width="10.75" height="12.14" fill="#fdf8f8"/>
<rect x="479.20" y="255.42" width="10.75" height="12.14" fill="#fdf8f8"/>
<text x="357.9" y="276.81" font-size="8.55" text-anchor="end">Folate</text>
<rect x="361.50" y="267.51" width="10.75" height="12.14" fill="#f2f5fa"/>
<rect x="372.20" y="267.51" width="10.75" height="12.14" fill="#e3e9f4"/>
<rect x="382.90" y="267.51" width="10.75" height="12.14" fill="#eef2f8"/>
<rect x="436.40" y="267.51" width="10.75" height="12.14" fill="#f2f5fa"/>
<rect x="500.60" y="267.51" width="10.75" height="12.14" fill="#f2f5fa"/>
<text x="357.9" y="288.90" font-size="8.55" text-anchor="end">Vitamin C</text>
<rect x="361.50" y="279.60" width="10.75" height="12.14" fill="#f5f7fb"/>
<rect x="372.20" y="279.60" width="10.75" height="12.14" fill="#dbe2f0"/>
<rect x="382.90" y="279.60" width="10.75" height="12.14" fill="#eff2f8"/>
<rect x="393.60" y="279.60" width="10.75" height="12.14" fill="#e3e9f4"/>
<rect x="404.30" y="279.60" width="10.75" height="12.14" fill="#d5dcec"/>
<rect x="415.00" y="279.60" width="10.75" height="12.14" fill="#cbd4e7"/>
<rect x="425.70" y="279.60" width="10.75" height="12.14" fill="#d8dfee"/>
<rect x="447.10" y="279.60" width="10.75" height="12.14" fill="#fefafa"/>
<rect x="468.50" y="279.60" width="10.75" height="12.14" fill="#f6f8fb"/>
<rect x="479.20" y="279.60" width="10.75" height="12.14" fill="#d5dcec"/>
<rect x="489.90" y="279.60" width="10.75" height="12.14" fill="#d2daeb"/>
<rect x="500.60" y="279.60" width="10.75" height="12.14" fill="#eceff7"/>
<text x="357.9" y="300.99" font-size="8.55" text-anchor="end">Acetate</text>
<rect x="361.50" y="291.69" width="10.75" height="12.14" fill="#f5f6fb"/>
<rect x="372.20" y="291.69" width="10.75" height="12.14" fill="#fbd0d4"/>
<rect x="382.90" y="291.69" width="10.75" height="12.14" fill="#fcdde0"/>
<rect x="393.60" y="291.69" width="10.75" height="12.14" fill="#f59ca3"/>
<rect x="404.30" y="291.69" width="10.75" height="12.14" fill="#f9c0c5"/>
<rect x="415.00" y="291.69" width="10.75" height="12.14" fill="#fbd3d6"/>
<rect x="425.70" y="291.69" width="10.75" height="12.14" fill="#f9c6ca"/>
<rect x="436.40" y="291.69" width="10.75" height="12.14" fill="#f6f9fd"/>
<rect x="447.10" y="291.69" width="10.75" height="12.14" fill="#f28088"/>
<rect x="457.80" y="291.69" width="10.75" height="12.14" fill="#f3858c"/>
<rect x="468.50" y="291.69" width="10.75" height="12.14" fill="#ec1c24"/>
<rect x="479.20" y="291.69" width="10.75" height="12.14" fill="#ec1c24"/>
<rect x="489.90" y="291.69" width="10.75" height="12.14" fill="#ee262c"/>
<rect x="500.60" y="291.69" width="10.75" height="12.14" fill="#ee2c32"/>
<text x="357.9" y="313.08" font-size="8.55" text-anchor="end">Palmitate</text>
<rect x="361.50" y="303.78" width="10.75" height="12.14" fill="#f8f9fc"/>
<rect x="372.20" y="303.78" width="10.75" height="12.14" fill="#fde2e4"/>
<rect x="382.90" y="303.78" width="10.75" height="12.14" fill="#fef3f4"/>
<rect x="393.60" y="303.78" width="10.75" height="12.14" fill="#fbd0d4"/>
<rect x="404.30" y="303.78" width="10.75" height="12.14" fill="#fef5f5"/>
<rect x="415.00" y="303.78" width="10.75" height="12.14" fill="#fdeef0"/>
<rect x="436.40" y="303.78" width="10.75" height="12.14" fill="#f9fafc"/>
<rect x="447.10" y="303.78" width="10.75" height="12.14" fill="#fde6e8"/>
<rect x="457.80" y="303.78" width="10.75" height="12.14" fill="#fde8ea"/>
<rect x="468.50" y="303.78" width="10.75" height="12.14" fill="#fdeaec"/>
<rect x="479.20" y="303.78" width="10.75" height="12.14" fill="#fef4f5"/>
<rect x="489.90" y="303.78" width="10.75" height="12.14" fill="#fce0e3"/>
<rect x="500.60" y="303.78" width="10.75" height="12.14" fill="#f8bfc4"/>
<text x="357.9" y="325.17" font-size="8.55" text-anchor="end">GSH</text>
<rect x="361.50" y="315.87" width="10.75" height="12.14" fill="#f3f6fa"/>
<rect x="436.40" y="315.87" width="10.75" height="12.14" fill="#f5f7fb"/>
<rect x="447.10" y="315.87" width="10.75" height="12.14" fill="#fdf4f4"/>
<rect x="457.80" y="315.87" width="10.75" height="12.14" fill="#fdf4f4"/>
<rect x="500.60" y="315.87" width="10.75" height="12.14" fill="#fbdfe2"/>
<rect x="361.50" y="37.80" width="149.80" height="290.16" fill="none" stroke="#231f20" stroke-width="1.3"/>
<defs><linearGradient id="cb" x1="0" x2="1" y1="0" y2="0"><stop offset="0" stop-color="#2a479e"/><stop offset="0.19" stop-color="#3050a4"/><stop offset="0.256" stop-color="#3252a5"/><stop offset="0.29" stop-color="#4a64aa"/><stop offset="0.32" stop-color="#6a7eb5"/><stop offset="0.357" stop-color="#8898be"/><stop offset="0.39" stop-color="#a0aac0"/><stop offset="0.43" stop-color="#b8c0c0"/><stop offset="0.462" stop-color="#d8dcd8"/><stop offset="0.50" stop-color="#ffffff"/><stop offset="0.525" stop-color="#ffffff"/><stop offset="0.545" stop-color="#fdf0e8"/><stop offset="0.585" stop-color="#f8c8b0"/><stop offset="0.65" stop-color="#f5a080"/><stop offset="0.725" stop-color="#f07850"/><stop offset="0.85" stop-color="#ec4634"/><stop offset="1" stop-color="#e61e28"/></linearGradient></defs>
<rect x="361.8" y="330.6" width="149.2" height="5.7" fill="url(#cb)"/>
<text x="361.2" y="347.5" font-size="8.9">0</text>
<text x="512.3" y="347.5" font-size="8.9" text-anchor="end">2</text>
<text x="436.4" y="361.5" font-size="10.5" text-anchor="middle" textLength="43.6" lengthAdjust="spacingAndGlyphs">Fold change</text>
<rect x="0" y="0" width="520" height="1.1" fill="#000"/>
<rect x="0" y="0" width="1.1" height="414" fill="#000"/>
<rect x="518.5" y="0" width="1.5" height="414" fill="#000"/>
<rect x="0" y="412.5" width="520" height="1.5" fill="#000"/>
</svg>
</body></html>
